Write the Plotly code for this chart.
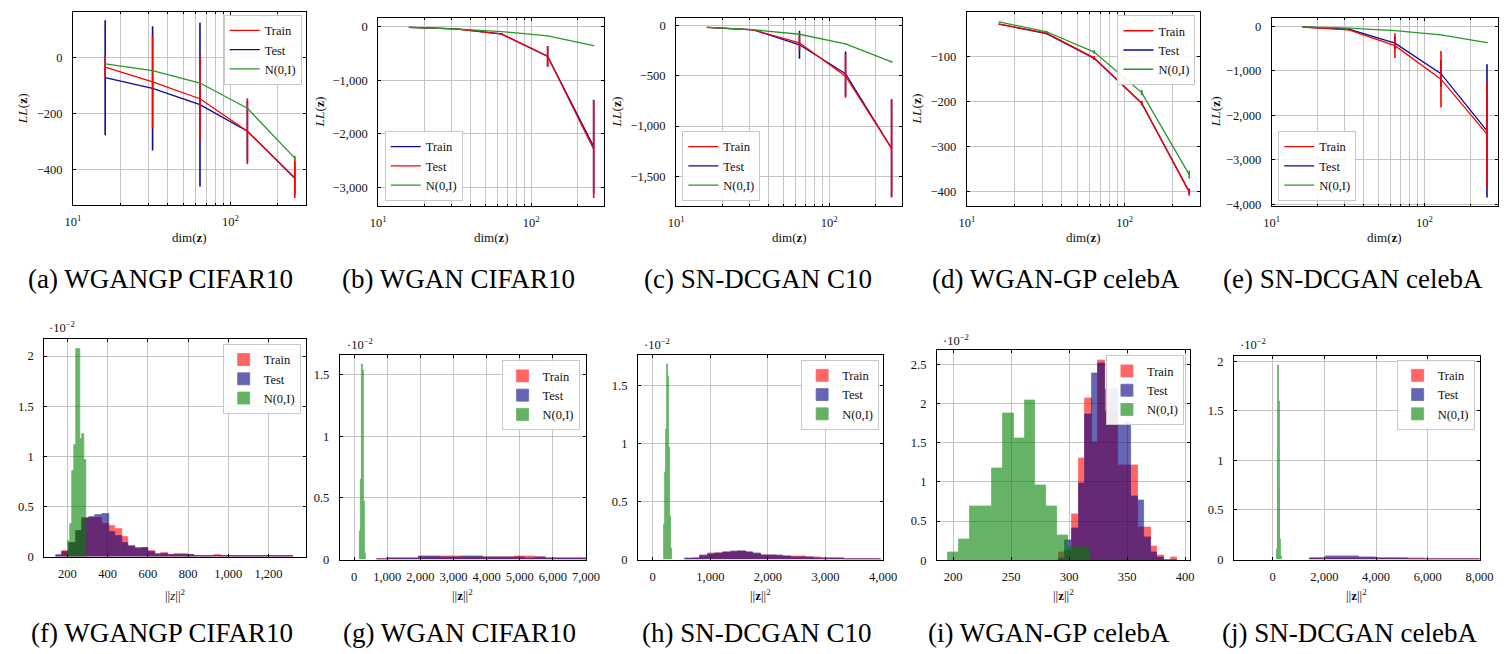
import plotly.graph_objects as go

W, H = 1512, 654
SERIF = "Liberation Serif"

# ---------------- data: top row, LL(z) vs dim(z) ----------------
dims = [16, 32, 64, 128, 256]

a_train = [-33, -86, -146, -262, -428]
a_train_err = [40, 167, 152, 118, 72]
a_test = [-71, -109, -167, -262, -430]
a_test_err = [205, 222, 292, 110, 60]
a_norm = [-22, -46, -90, -180, -358]
a_norm_err = [2, 2, 3, 5, 8]

b_train = [-18, -49, -140, -556, -2236]
b_train_err = [5, 8, 15, 190, 870]
b_test = [-18, -49, -145, -560, -2285]
b_test_err = [5, 8, 15, 190, 907]
b_norm = [-18, -49, -98, -177, -360]
b_norm_err = [1, 2, 3, 5, 10]

c_train = [-17, -42, -170, -503, -1221]
c_train_err = [3, 5, 75, 215, 490]
c_test = [-17, -42, -190, -478, -1221]
c_test_err = [3, 5, 140, 222, 480]
c_norm = [-17, -40, -85, -180, -360]
c_norm_err = [1, 2, 3, 5, 8]

d_train = [-28, -48, -103, -203, -401]
d_train_err = [1, 2, 4, 5, 8]
d_test = [-28, -49, -104, -204, -400]
d_test_err = [1, 2, 3, 4, 6]
d_norm = [-23, -45, -90, -180, -362]
d_norm_err = [1, 2, 4, 6, 9]

e_train = [-15, -80, -435, -1188, -2423]
e_train_err = [5, 20, 277, 636, 1188]
e_test = [-15, -65, -377, -1064, -2350]
e_test_err = [5, 15, 150, 300, 1497]
e_norm = [-10, -40, -95, -190, -368]
e_norm_err = [1, 2, 4, 6, 10]

# ---------------- data: bottom row, histograms of ||z||^2 (density x 1e-2) ----------------
f_rt_start, f_rt_width = 142.6, 32.8
f_train = [0.01, 0.06, 0.14, 0.26, 0.37, 0.38, 0.38, 0.32, 0.30, 0.27, 0.20, 0.10, 0.08, 0.09,
           0.06, 0.02, 0.04, 0.02, 0.03, 0.03, 0.015, 0.01, 0.01, 0.01, 0.012, 0.008, 0.01,
           0.008, 0.01, 0.005, 0.008, 0.005, 0.005, 0.005, 0.004, 0.004]
f_test = [0.02, 0.05, 0.14, 0.26, 0.38, 0.39, 0.41, 0.42, 0.25, 0.21, 0.14, 0.105, 0.09, 0.09,
          0.05, 0.03, 0.03, 0.02, 0.02, 0.015, 0.02, 0.01, 0.01, 0.008, 0.008, 0.01, 0.008,
          0.008, 0.008, 0.006, 0.006, 0.006, 0.005, 0.006, 0.005, 0.01]
f_n_start, f_n_width = 203.0, 9.83
f_norm = [0.154, 0.32, 0.85, 1.11, 2.07, 2.07, 1.17, 1.22, 0.96]

g_rt_start, g_rt_width = 680, 320
g_train = [0.003, 0.01, 0.01, 0.01, 0.015, 0.02, 0.025, 0.025, 0.02, 0.02, 0.015, 0.015,
           0.015, 0.025, 0.025, 0.015, 0.01, 0.01, 0.01, 0.008]
g_test = [0.005, 0.008, 0.01, 0.012, 0.025, 0.022, 0.02, 0.018, 0.022, 0.022, 0.015, 0.015,
          0.015, 0.015, 0.012, 0.015, 0.01, 0.008, 0.008, 0.006]
g_n_start, g_n_width = 180, 26
g_norm = [0.23, 0.65, 1.58, 1.53, 0.47, 0.05]

h_rt_start, h_rt_width = 565, 131
h_train = [0.005, 0.008, 0.03, 0.05, 0.05, 0.065, 0.065, 0.07, 0.06, 0.045, 0.04, 0.035, 0.03,
           0.03, 0.025, 0.028, 0.015, 0.015, 0.012, 0.008, 0.01, 0.005, 0.005, 0.005, 0.004, 0.004]
h_test = [0.01, 0.01, 0.04, 0.045, 0.05, 0.06, 0.07, 0.07, 0.06, 0.055, 0.035, 0.035, 0.035,
          0.03, 0.02, 0.02, 0.015, 0.012, 0.012, 0.008, 0.006, 0.005, 0.005, 0.004, 0.004, 0.003]
h_n_start, h_n_width = 194, 16.5
h_norm = [0.30, 0.75, 1.12, 1.68, 1.58, 0.97, 0.37, 0.10]

i_rt_start, i_rt_width = 291.1, 5.66
i_train = [0.10, 0.12, 0.58, 1.30, 2.07, 1.50, 2.55, 2.18, 1.90, 1.21, 1.21, 1.21, 0.42, 0.42,
           0.18, 0.06, 0.0, 0.03]
i_test = [0.02, 0.25, 0.40, 0.98, 1.86, 2.39, 2.52, 1.90, 2.20, 1.72, 1.76, 0.81, 0.77, 0.29,
          0.10, 0.04, 0.0, 0.0]
i_n_start, i_n_width = 195.5, 9.42
i_norm = [0.10, 0.265, 0.69, 0.69, 1.17, 1.88, 1.55, 2.04, 0.96, 0.69, 0.315, 0.16, 0.16]

j_rt_start, j_rt_width = 1436, 635
j_train = [0.01, 0.015, 0.015, 0.015, 0.012, 0.01, 0.008, 0.006, 0.004, 0.003, 0.003]
j_test = [0.008, 0.03, 0.03, 0.02, 0.01, 0.01, 0.005, 0.005, 0.004, 0.003, 0.003]
j_n_start, j_n_width = 166, 25.5
j_norm = [0.10, 1.08, 1.96, 1.60, 0.72, 0.20, 0.03]

captions = ["(a) WGANGP CIFAR10", "(b) WGAN CIFAR10", "(c) SN-DCGAN C10",
            "(d) WGAN-GP celebA", "(e) SN-DCGAN celebA",
            "(f) WGANGP CIFAR10", "(g) WGAN CIFAR10", "(h) SN-DCGAN C10",
            "(i) WGAN-GP celebA", "(j) SN-DCGAN celebA"]
series_names = ["Train", "Test", "N(0,I)"]

# ---------------- styling / layout ----------------
RED = "rgb(255,0,0)"
BLUE = "rgb(10,10,150)"
GREEN = "rgb(40,150,40)"
H_RED = "rgb(255,0,0)"
H_BLUE = "rgb(0,0,128)"
H_GREEN = "rgb(0,128,0)"
GRID = "#c4c4c4"
TXT = "#111"


def fx(x):
    return x / W


def fy(y):
    return 1 - y / H


# plot boxes in pixels: left, right, top, bottom
boxes = [
    (66, 302, 10, 206),
    (375.7, 605, 16, 207.3),
    (678, 907.3, 16.7, 207.3),
    (973, 1209.7, 10, 206.7),
    (1282.3, 1511.5, 16.7, 206.7),
    (36.7, 302.3, 341.7, 562.3),
    (336.7, 586.7, 358.3, 565.3),
    (639.3, 888.3, 358.3, 565.3),
    (942.7, 1199.3, 353.3, 566),
    (1244, 1493.3, 359.3, 565.3),
]

fig = go.Figure()


def ax_ids(i):
    return ("x" if i == 1 else f"x{i}"), ("y" if i == 1 else f"y{i}")


def leg_id(i):
    return "legend" if i == 1 else f"legend{i}"


top_panels = [
    dict(train=(a_train, a_train_err), test=(a_test, a_test_err), norm=(a_norm, a_norm_err),
         colors=(RED, BLUE), yrange=[-526, 164], dtick=200),
    dict(train=(b_train, b_train_err), test=(b_test, b_test_err), norm=(b_norm, b_norm_err),
         colors=(BLUE, RED), yrange=[-3347, 159], dtick=1000),
    dict(train=(c_train, c_train_err), test=(c_test, c_test_err), norm=(c_norm, c_norm_err),
         colors=(RED, BLUE), yrange=[-1800, 72], dtick=500),
    dict(train=(d_train, d_train_err), test=(d_test, d_test_err), norm=(d_norm, d_norm_err),
         colors=(RED, BLUE), yrange=[-431.5, -0.8], dtick=100),
    dict(train=(e_train, e_train_err), test=(e_test, e_test_err), norm=(e_norm, e_norm_err),
         colors=(RED, BLUE), yrange=[-4035, 177], dtick=1000),
]

for k, p in enumerate(top_panels):
    i = k + 1
    xa, ya = ax_ids(i)
    entries = [
        ("Train", p["train"], p["colors"][0], 1),
        ("Test", p["test"], p["colors"][1], 2),
        ("N(0,I)", p["norm"], GREEN, 3),
    ]
    # draw blue first, red above it, green last
    entries_draw = sorted(entries[:2], key=lambda e: 0 if e[2] == BLUE else 1) + [entries[2]]
    for name, (vals, err), col, rank in entries_draw:
        fig.add_trace(go.Scatter(
            x=dims, y=vals, mode="lines", name=name, legendrank=rank,
            line=dict(color=col, width=1.3),
            error_y=dict(type="data", array=err, visible=True, width=0, thickness=1.6, color=col),
            xaxis=xa, yaxis=ya, legend=leg_id(i), showlegend=True))

bottom_panels = [
    dict(tr=(f_rt_start, f_rt_width, f_train, f_test), n=(f_n_start, f_n_width, f_norm),
         xrange=[84, 1386], xdtick=200, yrange=[0, 2.17]),
    dict(tr=(g_rt_start, g_rt_width, g_train, g_test), n=(g_n_start, g_n_width, g_norm),
         xrange=[-434, 7005], xdtick=1000, yrange=[0, 1.655]),
    dict(tr=(h_rt_start, h_rt_width, h_train, h_test), n=(h_n_start, h_n_width, h_norm),
         xrange=[-256, 4005], xdtick=1000, yrange=[0, 1.76]),
    dict(tr=(i_rt_start, i_rt_width, i_train, i_test), n=(i_n_start, i_n_width, i_norm),
         xrange=[186, 404], xdtick=50, yrange=[0, 2.68]),
    dict(tr=(j_rt_start, j_rt_width, j_train, j_test), n=(j_n_start, j_n_width, j_norm),
         xrange=[-1500, 8005], xdtick=2000, yrange=[0, 2.05]),
]


def centers(start, width, n):
    return [start + (q + 0.5) * width for q in range(n)]


for k, p in enumerate(bottom_panels):
    i = k + 6
    xa, ya = ax_ids(i)
    s, w, tr, te = p["tr"]
    ns, nw, nv = p["n"]
    for name, xs, wd, vals, col, rank in [
        ("Train", centers(s, w, len(tr)), w, tr, H_RED, 1),
        ("Test", centers(s, w, len(te)), w, te, H_BLUE, 2),
        ("N(0,I)", centers(ns, nw, len(nv)), nw, nv, H_GREEN, 3),
    ]:
        fig.add_trace(go.Bar(
            x=xs, y=vals, width=wd, name=name, legendrank=rank, opacity=0.6,
            marker=dict(color=col, line=dict(color=col, width=0.8)),
            xaxis=xa, yaxis=ya, legend=leg_id(i)))

layout = dict(
    width=W, height=H, margin=dict(l=0, r=0, t=0, b=0),
    paper_bgcolor="white", plot_bgcolor="white",
    barmode="overlay", bargap=0, showlegend=True,
    font=dict(family=SERIF, size=12.5, color=TXT),
)

base_axis = dict(showline=True, linecolor="black", linewidth=1, mirror="ticks",
                 ticks="inside", ticklen=3, tickcolor="black", showgrid=True,
                 gridcolor=GRID, gridwidth=1, zeroline=False,
                 tickfont=dict(family=SERIF, size=12.5, color=TXT))

for idx, (l, r, t, b) in enumerate(boxes):
    i = idx + 1
    xa, ya = ax_ids(i)
    xkey = "xaxis" if i == 1 else f"xaxis{i}"
    ykey = "yaxis" if i == 1 else f"yaxis{i}"
    xd = dict(base_axis, domain=[fx(l), fx(r)], anchor=ya, ticklabelstandoff=5)
    yd = dict(base_axis, domain=[fy(b), fy(t)], anchor=xa, ticklabelstandoff=7)
    if i <= 5:
        p = top_panels[idx]
        xd.update(type="log", range=[1, 2.477], tickmode="array", tickvals=[10, 100],
                  ticktext=["10<sup>1</sup>", "10<sup>2</sup>"],
                  minor=dict(tickmode="array", tickvals=[20, 30, 40, 50, 60, 70, 80, 90, 200],
                             showgrid=True, gridcolor=GRID, gridwidth=1,
                             ticks="inside", ticklen=2, tickcolor="black"))
        yd.update(range=p["yrange"], dtick=p["dtick"], tickformat=",")
    else:
        p = bottom_panels[idx - 5]
        xd.update(range=p["xrange"], dtick=p["xdtick"], tick0=0, tickformat=",")
        yd.update(range=p["yrange"], dtick=0.5, tick0=0)
    layout[xkey] = xd
    layout[ykey] = yd

# legends (pixel anchors)
legend_spec = [
    (298, 13, "right", "top"),
    (382.3, 201.7, "left", "bottom"),
    (684.3, 201.7, "left", "bottom"),
    (1205, 13.3, "right", "top"),
    (1289, 201.7, "left", "bottom"),
    (297, 346.7, "right", "top"),
    (580, 363.3, "right", "top"),
    (884, 362.7, "right", "top"),
    (1193.3, 358.3, "right", "top"),
    (1488.3, 362.7, "right", "top"),
]
for idx, (lx, ly, xan, yan) in enumerate(legend_spec):
    i = idx + 1
    layout[leg_id(i)] = dict(
        x=fx(lx), y=fy(ly), xanchor=xan, yanchor=yan, xref="paper", yref="paper",
        bgcolor="rgba(255,255,255,0.9)", bordercolor="#c8c8c8", borderwidth=1,
        font=dict(family=SERIF, size=12.5, color=TXT), itemwidth=30,
        tracegroupgap=0, traceorder="normal")

fig.update_layout(**layout)

annotations = []
# captions
cap_pos = [(155, 281), (457, 281), (761, 281), (1063, 281), (1365, 281),
           (156, 640), (458.5, 640), (760.5, 640), (1056.5, 640), (1361.5, 640)]
for txt, (cx, cy) in zip(captions, cap_pos):
    annotations.append(dict(text=txt, x=fx(cx), y=fy(cy), xref="paper", yref="paper",
                            xanchor="center", yanchor="middle", showarrow=False,
                            font=dict(family=SERIF, size=27, color="black")))

# axis titles
for idx in range(10):
    l, r, t, b = boxes[idx]
    cx = (l + r) / 2
    if idx < 5:
        annotations.append(dict(text="dim(<b>z</b>)", x=fx(cx), y=fy(239), xref="paper",
                                yref="paper", xanchor="center", yanchor="middle",
                                showarrow=False, font=dict(family=SERIF, size=13, color=TXT)))
    else:
        lab = "||<i>z</i>||<sup>2</sup>" if idx == 5 else "||<b>z</b>||<sup>2</sup>"
        annotations.append(dict(text=lab, x=fx(cx), y=fy(601), xref="paper",
                                yref="paper", xanchor="center", yanchor="middle",
                                showarrow=False, font=dict(family=SERIF, size=13, color=TXT)))

ylab_x = [15, 316, 617, 922, 1225]
for idx, lxp in enumerate(ylab_x):
    l, r, t, b = boxes[idx]
    annotations.append(dict(text="<i>LL</i>(<b>z</b>)", x=fx(lxp), y=fy((t + b) / 2),
                            xref="paper", yref="paper", xanchor="center", yanchor="middle",
                            textangle=-90, showarrow=False,
                            font=dict(family=SERIF, size=13.5, color=TXT)))

# ·10^-2 multipliers
mult_pos = [(40, 330), (342, 347), (643, 347), (947, 343), (1248, 347)]
for mx, my in mult_pos:
    annotations.append(dict(text="·10<sup>−2</sup>", x=fx(mx), y=fy(my), xref="paper",
                            yref="paper", xanchor="left", yanchor="middle", showarrow=False,
                            font=dict(family=SERIF, size=12.5, color=TXT)))

fig.update_layout(annotations=annotations)

fig.write_html("out.html", config={"displayModeBar": False},
               post_script="document.body.style.margin='0';document.body.style.overflow='hidden';")
